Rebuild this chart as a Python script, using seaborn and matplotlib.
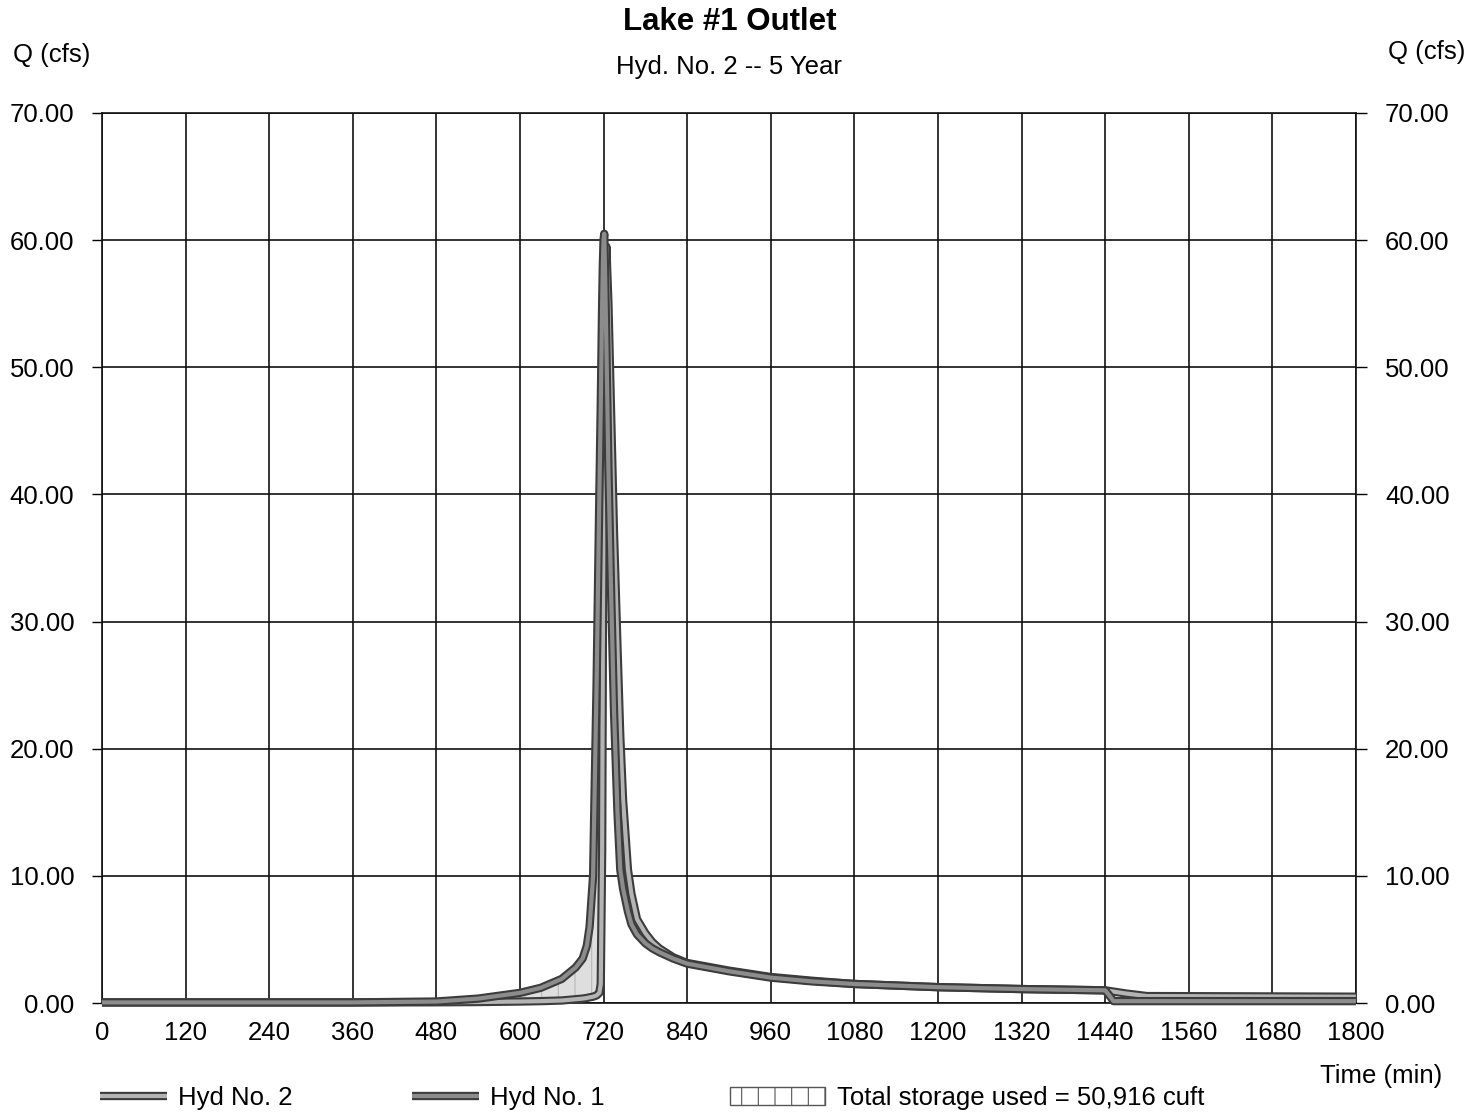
import numpy as np
import pandas as pd
import matplotlib
matplotlib.use("Agg")
import matplotlib.pyplot as plt
import matplotlib.patheffects as pe
from matplotlib.lines import Line2D
from matplotlib.patches import Patch
from matplotlib.ticker import MultipleLocator, FormatStrFormatter
import seaborn as sns

# Hydrograph ordinates (time in minutes, flow in cfs)
time_min = [0, 360, 480, 540, 600, 630, 660, 680, 690, 696, 700, 705, 710, 714,
            716, 718, 719, 720, 721, 722, 724, 727, 731, 735, 740, 744, 748, 755,
            760, 768, 780, 790, 800, 820, 840, 900, 960, 1020, 1080, 1200, 1320,
            1440, 1446, 1452, 1470, 1500, 1800]

# Hyd No. 1 - inflow to the lake
hyd1_inflow = [0.05, 0.05, 0.12, 0.35, 0.8, 1.2, 1.9, 2.8, 3.5, 4.5, 6.0, 10.0, 25.0, 40.0,
               47.0, 55.0, 58.0, 60.0, 60.5, 58.0, 52.0, 42.0, 32.0, 23.0, 15.0, 10.5, 9.0, 7.2,
               6.2, 5.4, 4.7, 4.3, 4.0, 3.5, 3.1, 2.5, 2.0, 1.7, 1.5, 1.25, 1.1,
               1.0, 0.6, 0.15, 0.15, 0.15, 0.15]

# Hyd No. 2 - routed outflow from the lake outlet
hyd2_outflow = [0.05, 0.05, 0.06, 0.08, 0.12, 0.15, 0.2, 0.3, 0.35, 0.4, 0.45, 0.5, 0.6, 0.8,
                1.5, 12.0, 28.0, 40.0, 48.0, 54.0, 59.5, 55.0, 46.0, 37.0, 28.0, 21.0, 16.0, 10.5,
                8.6, 6.6, 5.5, 4.8, 4.3, 3.6, 3.15, 2.55, 2.05, 1.75, 1.5, 1.25, 1.1,
                1.0, 0.95, 0.9, 0.75, 0.55, 0.5]

title = "Lake #1 Outlet"
subtitle = "Hyd. No. 2 -- 5 Year"
storage_label = "Total storage used = 50,916 cuft"

df = pd.DataFrame({"time": time_min, "inflow": hyd1_inflow, "outflow": hyd2_outflow})

sns.set_theme(style="white")
plt.rcParams["font.family"] = ["Liberation Sans", "DejaVu Sans"]
plt.rcParams["hatch.linewidth"] = 0.8
plt.rcParams["text.color"] = "black"
plt.rcParams["xtick.color"] = "black"
plt.rcParams["ytick.color"] = "black"

FS = 18.5
fig = plt.figure(figsize=(14.84, 11.14), dpi=100)
ax = fig.add_axes([0.0687, 0.0996, 0.845, 0.799])

# storage: area where inflow exceeds outflow
ax.fill_between(df["time"], df["outflow"], df["inflow"],
                where=df["inflow"] >= df["outflow"], interpolate=True,
                facecolor="#dedede", edgecolor="#b8b8b8", hatch="|", linewidth=0, zorder=2)

edge = [pe.withStroke(linewidth=6.0, foreground="#3c3c3c", capstyle="butt")]
sns.lineplot(data=df, x="time", y="outflow", ax=ax, color="#b4b4b4", linewidth=3.0,
             path_effects=edge, clip_on=False, zorder=4, sort=False,
             solid_capstyle="butt")
sns.lineplot(data=df, x="time", y="inflow", ax=ax, color="#8c8c8c", linewidth=3.0,
             path_effects=edge, clip_on=False, zorder=5, sort=False,
             solid_capstyle="butt")

ax.set_xlim(0, 1800)
ax.set_ylim(0, 70)
ax.xaxis.set_major_locator(MultipleLocator(120))
ax.yaxis.set_major_locator(MultipleLocator(10))
ax.yaxis.set_major_formatter(FormatStrFormatter("%.2f"))
ax.grid(True, color="#111111", linewidth=1.2)
ax.set_axisbelow(True)
for s in ax.spines.values():
    s.set_color("#111111")
    s.set_linewidth(1.2)
ax.set_xlabel("")
ax.set_ylabel("")
ax.tick_params(axis="x", length=0, pad=13, labelsize=FS, colors="black")
ax.tick_params(axis="y", length=7, width=1.0, pad=13, labelsize=FS, colors="black",
               direction="out", left=True)

axr = ax.twinx()
axr.set_ylim(0, 70)
axr.yaxis.set_major_locator(MultipleLocator(10))
axr.yaxis.set_major_formatter(FormatStrFormatter("%.2f"))
axr.tick_params(axis="y", length=8, width=1.0, pad=13, labelsize=FS, colors="black",
                direction="out", right=True)
for s in axr.spines.values():
    s.set_visible(False)
axr.grid(False)

# titles and axis captions
fig.text(0.4915, 0.980, title, ha="center", va="center", fontsize=22.5, fontweight="bold")
fig.text(0.4915, 0.940, subtitle, ha="center", va="center", fontsize=FS)
fig.text(0.0085, 0.951, "Q (cfs)", ha="left", va="center", fontsize=FS)
fig.text(0.9875, 0.953, "Q (cfs)", ha="right", va="center", fontsize=FS)
fig.text(0.972, 0.034, "Time (min)", ha="right", va="center", fontsize=FS)

# legend row
h2 = Line2D([], [], color="#b4b4b4", linewidth=3.0, path_effects=edge, solid_capstyle="butt")
h1 = Line2D([], [], color="#8c8c8c", linewidth=3.0, path_effects=edge, solid_capstyle="butt")
hs = Patch(facecolor="white", edgecolor="#555555", hatch="|", linewidth=1.0)
common = dict(loc="center left", frameon=False, borderpad=0, borderaxespad=0,
              fontsize=FS, handletextpad=0.45)
leg_y = 0.0144
fig.legend([h2], ["Hyd No. 2"], bbox_to_anchor=(0.0674, leg_y), handlelength=2.6, **common)
fig.legend([h1], ["Hyd No. 1"], bbox_to_anchor=(0.2776, leg_y), handlelength=2.6, **common)
fig.legend([hs], [storage_label], bbox_to_anchor=(0.4919, leg_y), handlelength=3.7,
           handleheight=0.7, **common)

fig.savefig("out.png", dpi=100)
